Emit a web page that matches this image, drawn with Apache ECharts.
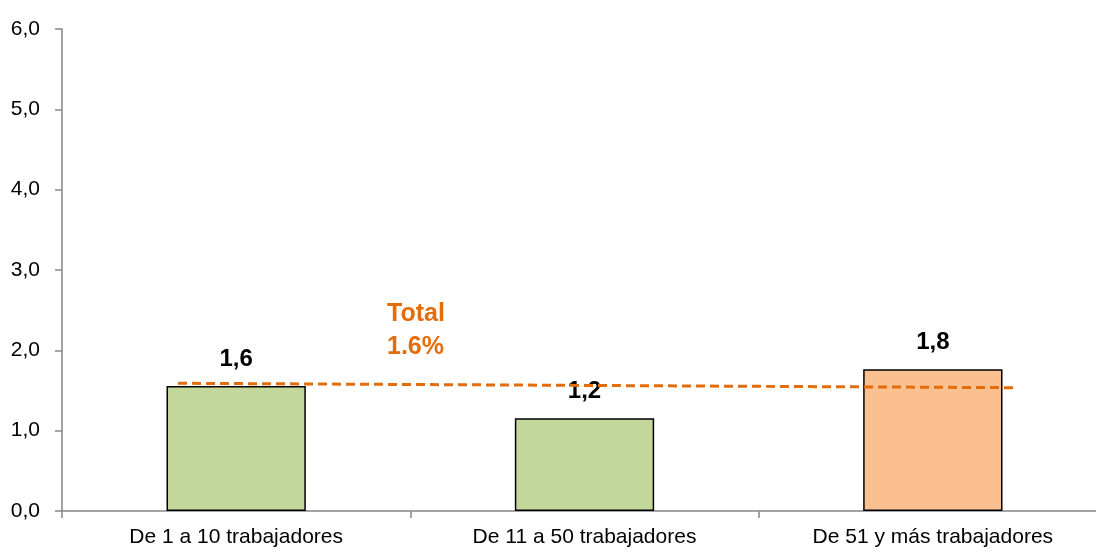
<!DOCTYPE html>
<html>
<head>
<meta charset="utf-8">
<script src="https://cdn.jsdelivr.net/npm/echarts@6/dist/echarts.min.js"></script>
<style>
html,body{margin:0;padding:0;background:#fff;overflow:hidden;width:1096px;height:552px;}
#chart{width:1107px;height:552px;}
</style>
</head>
<body>
<div id="chart"></div>
<script>
var categories = ["De 1 a 10 trabajadores", "De 11 a 50 trabajadores", "De 51 y más trabajadores"];
var values = [1.555, 1.155, 1.765];
var valueLabels = ["1,6", "1,2", "1,8"];
var barColors = ["#C4D79B", "#C4D79B", "#FAC090"];
var totalLine = [[0.333, 1.59], [2.735, 1.535]];
var totalText = "Total\n1.6%";
var yTicks = [0, 1, 2, 3, 4, 5, 6];

var FONT = '"Liberation Sans", Arial, sans-serif';
var chart = echarts.init(document.getElementById('chart'));
chart.setOption({
  animation: false,
  backgroundColor: '#ffffff',
  grid: {left: 62, right: 0, top: 29, bottom: 41, containLabel: false},
  xAxis: [{
    type: 'category',
    data: categories,
    axisLine: {lineStyle: {color: '#868686', width: 1.5}},
    axisTick: {show: true, length: 7, lineStyle: {color: '#868686', width: 1.5}},
    axisLabel: {color: '#000', fontFamily: FONT, fontSize: 21, margin: 16, interval: 0}
  }, {
    type: 'value', min: 0, max: 3, show: false
  }],
  yAxis: {
    type: 'value', min: 0, max: 6, interval: 1,
    axisLine: {show: true, lineStyle: {color: '#868686', width: 1.5}},
    axisTick: {show: true, length: 7, lineStyle: {color: '#868686', width: 1.5}},
    splitLine: {show: false},
    axisLabel: {
      color: '#000', fontFamily: FONT, fontSize: 21, margin: 22,
      formatter: function (v) { return yTicks.indexOf(v) >= 0 ? v.toFixed(1).replace('.', ',') : ''; }
    }
  },
  series: [{
    type: 'bar',
    barWidth: '40%',
    data: values.map(function (v, i) {
      return {value: v, itemStyle: {color: barColors[i]}};
    }),
    itemStyle: {borderColor: '#000', borderWidth: 1.5},
    label: {
      show: true, position: 'top', distance: 15,
      fontFamily: FONT, fontSize: 24, fontWeight: 'bold', color: '#000',
      formatter: function (p) { return valueLabels[p.dataIndex]; }
    },
    z: 2
  }, {
    type: 'line',
    xAxisIndex: 1,
    data: totalLine,
    symbol: 'none',
    lineStyle: {color: '#E46C0A', width: 3, type: [9, 5]},
    z: 5
  }],
  graphic: [{
    type: 'text',
    left: 387, top: 298,
    style: {
      text: totalText,
      fill: '#E46C0A',
      font: 'bold 25px ' + FONT,
      align: 'center',
      lineHeight: 33
    }
  }]
});
</script>
</body>
</html>
